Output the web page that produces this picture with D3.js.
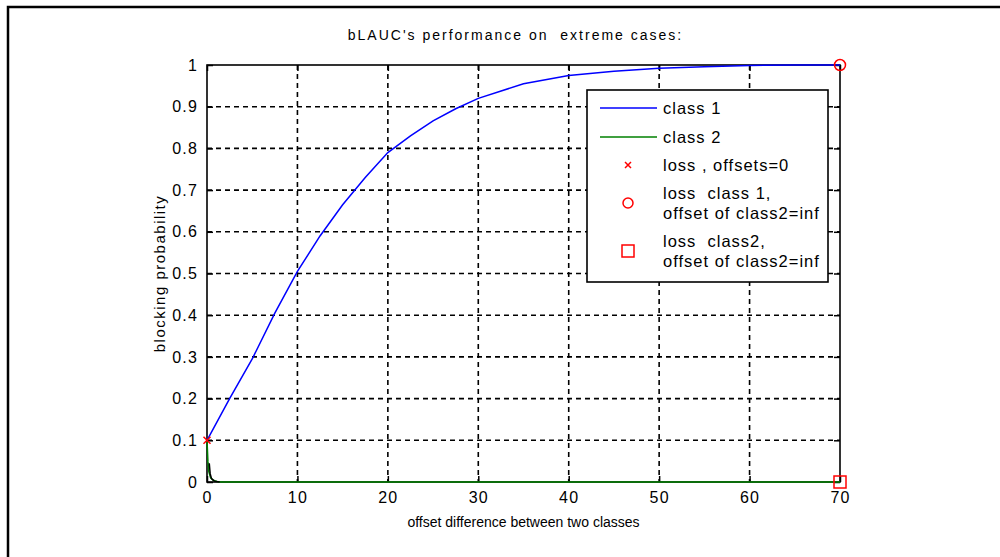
<!DOCTYPE html>
<html lang="en">
<head>
  <meta charset="UTF-8">
  <title>bLAUC's performance on extreme cases</title>
  <style>
    body { margin: 0; background: #fff; }
    text { font-family: "Liberation Sans", Arial, sans-serif; fill: #000; white-space: pre; }
  </style>
</head>
<body>
  <script src="https://d3js.org/d3.v7.min.js"></script>
  <script>
    // data
    const class1X = [0, 2.5, 5, 7.5, 10, 12.5, 15, 17.5, 20, 22.5, 25, 27.5, 30, 35, 40, 45, 50, 55, 60, 65, 70];
    const class1Y = [0.1, 0.2, 0.295, 0.405, 0.505, 0.59, 0.665, 0.73, 0.79, 0.83, 0.866, 0.895, 0.92, 0.955, 0.975, 0.985, 0.992, 0.996, 0.999, 1, 1];
    const class2X = [0, 0.1, 0.2, 0.4, 0.7, 1.1, 1.6, 70];
    const class2Y = [0.1, 0.05, 0.025, 0.01, 0.004, 0.001, 0, 0];
    const darkX = [0.25, 0.35, 0.5, 0.8, 1.4];
    const darkY = [0.045, 0.02, 0.008, 0.002, 0];
    const lossZero = [[0, 0.1]];
    const lossClass1 = [[70, 1]];
    const lossClass2 = [[70, 0]];
    const xTicks = [0, 10, 20, 30, 40, 50, 60, 70];
    const yTicks = [0, 0.1, 0.2, 0.3, 0.4, 0.5, 0.6, 0.7, 0.8, 0.9, 1];
    const legendItems = [
      { kind: 'line', color: '#0000ff', lines: ['class 1'] },
      { kind: 'line', color: '#008000', lines: ['class 2'] },
      { kind: 'x', color: '#ff0000', lines: ['loss , offsets=0'] },
      { kind: 'circle', color: '#ff0000', lines: ['loss  class 1,', 'offset of class2=inf'] },
      { kind: 'square', color: '#ff0000', lines: ['loss  class2,', 'offset of class2=inf'] }
    ];

    const W = 1000, H = 557;
    const margin = { left: 207, right: 160, top: 65, bottom: 75 };
    const width = W - margin.left - margin.right;   // 633
    const height = H - margin.top - margin.bottom;  // 417

    const svg = d3.select('body').append('svg')
      .attr('width', W).attr('height', H);

    // outer frame (left + top only visible)
    svg.append('path')
      .attr('d', `M8,${H} L8,7 L${W},7`)
      .attr('fill', 'none').attr('stroke', '#000').attr('stroke-width', 2.5);

    const x = d3.scaleLinear().domain([0, 70]).range([0, width]);
    const y = d3.scaleLinear().domain([0, 1]).range([height, 0]);

    const g = svg.append('g').attr('transform', `translate(${margin.left},${margin.top})`);

    // grid
    g.selectAll('.gx').data(xTicks.slice(1, -1)).enter().append('line')
      .attr('x1', d => x(d)).attr('x2', d => x(d)).attr('y1', 0).attr('y2', height)
      .attr('stroke', '#000').attr('stroke-width', 1.6).attr('stroke-dasharray', '5,4');
    g.selectAll('.gy').data(yTicks.slice(1, -1)).enter().append('line')
      .attr('y1', d => y(d)).attr('y2', d => y(d)).attr('x1', 0).attr('x2', width)
      .attr('stroke', '#000').attr('stroke-width', 1.6).attr('stroke-dasharray', '5,4');

    // axes (ticks inward on all sides)
    const tickStyle = sel => {
      sel.select('.domain').remove();
      sel.selectAll('line').attr('stroke', '#000').attr('stroke-width', 1.5);
      sel.selectAll('text').attr('font-size', 16).attr('letter-spacing', 1.2);
    };
    g.append('g').attr('transform', `translate(0,${height})`)
      .call(d3.axisBottom(x).tickValues(xTicks).tickSizeInner(-6).tickPadding(10).tickFormat(d3.format('d')))
      .call(tickStyle);
    g.append('g')
      .call(d3.axisTop(x).tickValues(xTicks).tickSizeInner(-6).tickFormat(''))
      .call(tickStyle);
    g.append('g')
      .call(d3.axisLeft(y).tickValues(yTicks).tickSizeInner(-6).tickPadding(9).tickFormat(d => d === 0 || d === 1 ? d : d.toFixed(1)))
      .call(tickStyle);
    g.append('g').attr('transform', `translate(${width},0)`)
      .call(d3.axisRight(y).tickValues(yTicks).tickSizeInner(-6).tickFormat(''))
      .call(tickStyle);

    g.append('rect').attr('width', width).attr('height', height)
      .attr('fill', 'none').attr('stroke', '#000').attr('stroke-width', 1.6);

    // lines
    const line = d3.line().x(d => x(d[0])).y(d => y(d[1]));
    g.append('path').datum(class1X.map((v, i) => [v, class1Y[i]]))
      .attr('d', line).attr('fill', 'none').attr('stroke', '#0000ff').attr('stroke-width', 1.5);
    g.append('path').datum(class2X.map((v, i) => [v, class2Y[i]]))
      .attr('d', line).attr('fill', 'none').attr('stroke', '#008000').attr('stroke-width', 1.5);
    g.append('path').datum(darkX.map((v, i) => [v, darkY[i]]))
      .attr('d', line).attr('fill', 'none').attr('stroke', '#000').attr('stroke-width', 1.5);

    // markers
    const drawX = (sel, cx, cy, s) => sel.append('path')
      .attr('d', `M${cx - s},${cy - s}L${cx + s},${cy + s}M${cx - s},${cy + s}L${cx + s},${cy - s}`)
      .attr('stroke', '#ff0000').attr('stroke-width', 1.5).attr('fill', 'none');
    const drawCircle = (sel, cx, cy, r) => sel.append('circle')
      .attr('cx', cx).attr('cy', cy).attr('r', r)
      .attr('stroke', '#ff0000').attr('stroke-width', 1.5).attr('fill', 'none');
    const drawSquare = (sel, cx, cy, s) => sel.append('rect')
      .attr('x', cx - s).attr('y', cy - s).attr('width', 2 * s).attr('height', 2 * s)
      .attr('stroke', '#ff0000').attr('stroke-width', 1.5).attr('fill', 'none');

    lossZero.forEach(d => drawX(g, x(d[0]), y(d[1]), 3.5));
    lossClass1.forEach(d => drawCircle(g, x(d[0]), y(d[1]), 5.5));
    lossClass2.forEach(d => drawSquare(g, x(d[0]), y(d[1]), 6));

    // titles
    g.append('text').attr('x', width / 2 - 8).attr('y', -25).attr('text-anchor', 'middle')
      .attr('font-size', 14).attr('letter-spacing', 2)
      .text("bLAUC's performance on  extreme cases:");
    g.append('text').attr('x', width / 2).attr('y', height + 45).attr('text-anchor', 'middle')
      .attr('font-size', 14).text('offset difference between two classes');
    g.append('text').attr('transform', `translate(-42,${height / 2}) rotate(-90)`)
      .attr('text-anchor', 'middle').attr('font-size', 15).attr('letter-spacing', 1.5)
      .text('blocking probability');

    // legend
    const lg = svg.append('g').attr('transform', 'translate(587,90)');
    lg.append('rect').attr('width', 241).attr('height', 192)
      .attr('fill', '#fff').attr('stroke', '#000').attr('stroke-width', 1.6);
    const rowY = [18, 47, 75, 113, 161];
    legendItems.forEach((it, i) => {
      const cy = rowY[i];
      if (it.kind === 'line') {
        lg.append('line').attr('x1', 13).attr('x2', 70).attr('y1', cy).attr('y2', cy)
          .attr('stroke', it.color).attr('stroke-width', 1.5);
      } else if (it.kind === 'x') {
        drawX(lg, 41, cy, 3);
      } else if (it.kind === 'circle') {
        drawCircle(lg, 41, cy, 5);
      } else {
        drawSquare(lg, 41, cy, 6);
      }
      const n = it.lines.length;
      it.lines.forEach((t, j) => {
        lg.append('text').attr('x', 76).attr('y', cy + 6 + (j - (n - 1) / 2) * 20)
          .attr('font-size', 16.5).attr('letter-spacing', 1).text(t);
      });
    });
  </script>
</body>
</html>
